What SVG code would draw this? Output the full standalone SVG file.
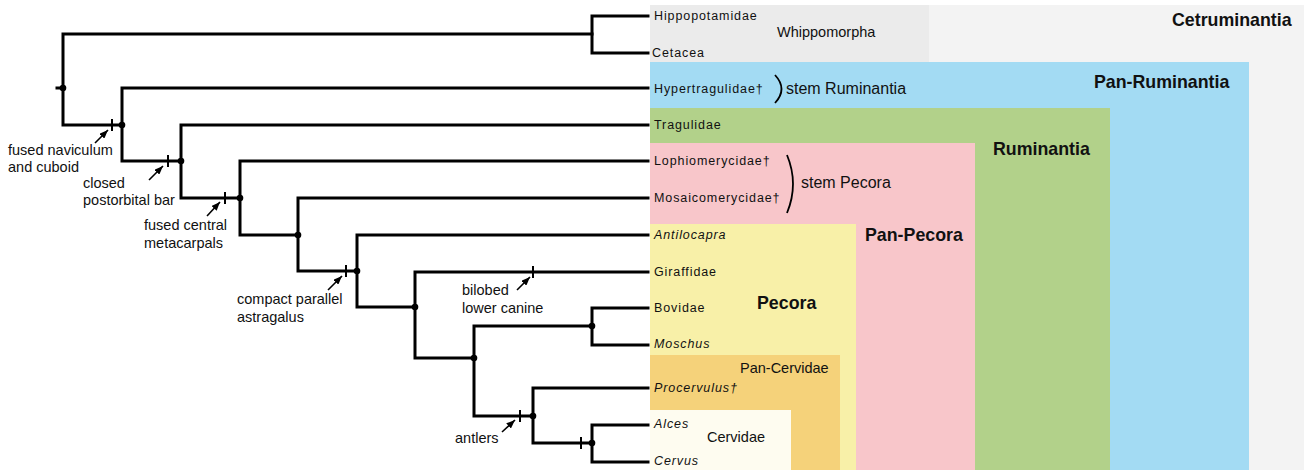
<svg xmlns="http://www.w3.org/2000/svg" width="1306" height="470" viewBox="0 0 1306 470">
<defs>
<style>
text{font-family:"Liberation Sans",Arial,sans-serif;fill:#111}
.leaf{font-size:12.5px;letter-spacing:0.9px}
.it{font-style:italic}
.ann{font-size:14.5px}
.grp{font-size:14.5px}
.stem{font-size:16px}
.bold{font-size:17.8px;font-weight:bold}
.br{fill:none;stroke:#000;stroke-width:3;stroke-linejoin:miter;stroke-linecap:square}
.tick{stroke:#000;stroke-width:2}
.arr{stroke:#000;stroke-width:1.6;fill:none}
.brk{fill:none;stroke:#000;stroke-width:1.8}
</style>
<marker id="ah" viewBox="0 0 10 8" refX="10" refY="4" markerWidth="9" markerHeight="7" markerUnits="userSpaceOnUse" orient="auto">
<path d="M0,0 L10,4 L0,8 z" fill="#000"/>
</marker>
</defs>
<g id="boxes">
<rect id="box-cetruminantia" x="650" y="5" width="654" height="465" fill="#f3f3f3"/>
<rect id="box-whippomorpha" x="650" y="5" width="279" height="57" fill="#ebebeb"/>
<rect id="box-panruminantia" x="650" y="62" width="599" height="408" fill="#a3dbf3"/>
<rect id="box-ruminantia" x="650" y="108" width="460" height="362" fill="#b2d18a"/>
<rect id="box-panpecora" x="650" y="143" width="325" height="327" fill="#f8c6ca"/>
<rect id="box-pecora" x="650" y="224" width="206" height="246" fill="#f8f0a8"/>
<rect id="box-pancervidae" x="650" y="355" width="190" height="115" fill="#f5d27a"/>
<rect id="box-cervidae" x="650" y="410" width="141" height="60" fill="#fefcf0"/>
</g>
<g id="connectors">
<path class="br" d="M592 34 H63 V125 H122"/>
<path class="br" d="M57 88 H63"/>
<path class="br" d="M648 16 H592 V53 H648"/>
<path class="br" d="M648 88 H122 V161 H181"/>
<path class="br" d="M648 125 H181 V198 H240"/>
<path class="br" d="M648 161 H240 V235 H298"/>
<path class="br" d="M648 198 H298 V271 H357"/>
<path class="br" d="M648 235 H357 V307 H415"/>
<path class="br" d="M648 272 H415 V358 H474"/>
<path class="br" d="M592 326 H474 V416 H533"/>
<path class="br" d="M648 308 H592 V345 H648"/>
<path class="br" d="M648 388 H533 V443 H592"/>
<path class="br" d="M648 425 H592 V462 H648"/>
<g fill="#000">
<circle cx="63" cy="88" r="3.3"/>
<circle cx="122" cy="125" r="3.3"/>
<circle cx="181" cy="161" r="3.3"/>
<circle cx="240" cy="198" r="3.3"/>
<circle cx="298" cy="235" r="3.3"/>
<circle cx="357" cy="271" r="3.3"/>
<circle cx="415" cy="307" r="3.3"/>
<circle cx="474" cy="358" r="3.3"/>
<circle cx="592" cy="326" r="3.3"/>
<circle cx="533" cy="416" r="3.3"/>
<circle cx="592" cy="443" r="3.3"/>
</g>
<g class="tick">
<line x1="112" y1="119" x2="112" y2="131"/>
<line x1="168" y1="155" x2="168" y2="167"/>
<line x1="225" y1="192" x2="225" y2="204"/>
<line x1="346" y1="265" x2="346" y2="277"/>
<line x1="533" y1="266" x2="533" y2="278"/>
<line x1="520" y1="410" x2="520" y2="422"/>
<line x1="581" y1="437" x2="581" y2="449"/>
</g>
<g class="arr" marker-end="url(#ah)">
<line x1="95" y1="143" x2="108" y2="130"/>
<line x1="149" y1="180" x2="163" y2="166"/>
<line x1="207" y1="216" x2="220" y2="202"/>
<line x1="328" y1="290" x2="342" y2="276"/>
<line x1="517" y1="290" x2="530" y2="277"/>
<line x1="502" y1="432" x2="515" y2="420"/>
</g>
</g>
<g id="leaf-hippopotamidae"><text class="leaf" x="654" y="20">Hippopotamidae</text></g>
<g id="leaf-cetacea"><text class="leaf" x="652" y="57">Cetacea</text></g>
<g id="leaf-hypertragulidae"><text class="leaf" x="654" y="93">Hypertragulidae†</text></g>
<g id="leaf-tragulidae"><text class="leaf" x="654" y="129">Tragulidae</text></g>
<g id="leaf-lophiomerycidae"><text class="leaf" x="654" y="165">Lophiomerycidae†</text></g>
<g id="leaf-mosaicomerycidae"><text class="leaf" x="654" y="202">Mosaicomerycidae†</text></g>
<g id="leaf-antilocapra"><text class="leaf it" x="654" y="239">Antilocapra</text></g>
<g id="leaf-giraffidae"><text class="leaf" x="654" y="276">Giraffidae</text></g>
<g id="leaf-bovidae"><text class="leaf" x="654" y="312">Bovidae</text></g>
<g id="leaf-moschus"><text class="leaf it" x="654" y="348">Moschus</text></g>
<g id="leaf-procervulus"><text class="leaf it" x="654" y="392">Procervulus†</text></g>
<g id="leaf-alces"><text class="leaf it" x="654" y="428">Alces</text></g>
<g id="leaf-cervus"><text class="leaf it" x="654" y="465">Cervus</text></g>
<g id="labels">
<text class="bold" x="1172" y="26">Cetruminantia</text>
<text class="bold" x="1094" y="88">Pan-Ruminantia</text>
<text class="bold" x="993" y="155">Ruminantia</text>
<text class="bold" x="865" y="241">Pan-Pecora</text>
<text class="bold" x="757" y="309">Pecora</text>
<text class="grp" x="777" y="37">Whippomorpha</text>
<text class="grp" x="740" y="373">Pan-Cervidae</text>
<text class="grp" x="707" y="442">Cervidae</text>
<path class="brk" d="M775 75 Q788 89 775 103"/>
<text class="stem" x="786" y="94">stem Ruminantia</text>
<path class="brk" d="M787 155 Q799 184 787 213"/>
<text class="stem" x="801" y="188">stem Pecora</text>
</g>
<g id="annotations">
<text class="ann" x="8" y="155">fused naviculum</text>
<text class="ann" x="8" y="172">and cuboid</text>
<text class="ann" x="83" y="188">closed</text>
<text class="ann" x="83" y="205">postorbital bar</text>
<text class="ann" x="144" y="230">fused central</text>
<text class="ann" x="144" y="248">metacarpals</text>
<text class="ann" x="237" y="304">compact parallel</text>
<text class="ann" x="237" y="322">astragalus</text>
<text class="ann" x="462" y="295">bilobed</text>
<text class="ann" x="462" y="313">lower canine</text>
<text class="ann" x="455" y="443">antlers</text>
</g>
</svg>
